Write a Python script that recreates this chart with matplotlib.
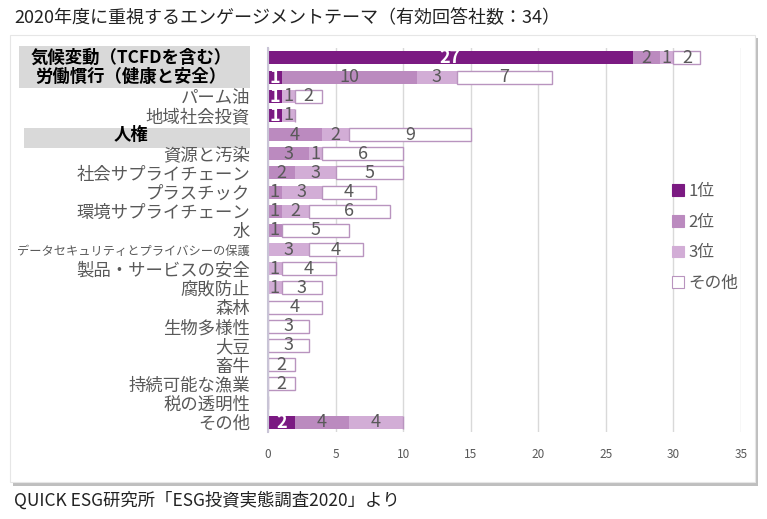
import matplotlib
matplotlib.use("Agg")
import matplotlib.pyplot as plt
from matplotlib.patches import Rectangle, Patch

plt.rcParams['font.family'] = ['Noto Sans CJK JP', 'DejaVu Sans']

# データ
themes = ['気候変動（TCFDを含む）', '労働慣行（健康と安全）', 'パーム油', '地域社会投資', '人権',
          '資源と汚染', '社会サプライチェーン', 'プラスチック', '環境サプライチェーン', '水',
          'データセキュリティとプライバシーの保護', '製品・サービスの安全', '腐敗防止', '森林',
          '生物多様性', '大豆', '畜牛', '持続可能な漁業', '税の透明性', 'その他']
rank1 = [27, 1, 1, 1, 0, 0, 0, 0, 0, 0, 0, 0, 0, 0, 0, 0, 0, 0, 0, 2]
rank2 = [2, 10, 0, 0, 4, 3, 2, 1, 1, 1, 0, 0, 0, 0, 0, 0, 0, 0, 0, 4]
rank3 = [1, 3, 1, 1, 2, 1, 3, 3, 2, 0, 3, 1, 1, 0, 0, 0, 0, 0, 0, 4]
others = [2, 7, 2, 0, 9, 6, 5, 4, 6, 5, 4, 4, 3, 4, 3, 3, 2, 2, 0, 0]
series_names = ['1位', '2位', '3位', 'その他']
highlight = [0, 1, 4]

colors = ['#7B1A82', '#BB8ABF', '#D2ADD6', 'white']
edge_other = '#B994BF'
grey_txt = '#595959'

W, H = 767, 519
fig = plt.figure(figsize=(W / 100, H / 100), dpi=100)

# 外枠（影付き）
fig.patches.append(Rectangle((13 / W, 1 - 486 / H), 745 / W, 448 / H, transform=fig.transFigure,
                             facecolor='#BFBFBF', edgecolor='none', zorder=-3))
fig.patches.append(Rectangle((10 / W, 1 - 482 / H), 745 / W, 447 / H, transform=fig.transFigure,
                             facecolor='white', edgecolor='#E6E6E6', lw=0.8, zorder=-2))
# 強調ラベルの背景
fig.patches.append(Rectangle((19 / W, 1 - 88 / H), 231 / W, 42 / H, transform=fig.transFigure,
                             facecolor='#D9D9D9', edgecolor='none', zorder=-1))
fig.patches.append(Rectangle((24 / W, 1 - 148 / H), 226 / W, 20 / H, transform=fig.transFigure,
                             facecolor='#D9D9D9', edgecolor='none', zorder=-1))

ax = fig.add_axes([268 / W, 1 - 431.6 / H, 473 / W, 383.2 / H])
ax.set_zorder(2)
ax.patch.set_alpha(0)

y = list(range(len(themes)))
h = 0.68
left = [0] * len(themes)
for vals, c, name in zip([rank1, rank2, rank3, others], colors, series_names):
    if name == 'その他':
        ax.barh(y, vals, left=left, height=h, color=c, edgecolor=edge_other, lw=1.0, zorder=3)
    else:
        ax.barh(y, vals, left=left, height=h, color=c, edgecolor='none', zorder=3)
    for i, v in enumerate(vals):
        if v > 0:
            if name == '1位':
                ax.text(left[i] + v / 2, i, str(v), ha='center', va='center', color='white',
                        fontsize=13, fontweight='bold', zorder=4)
            else:
                ax.text(left[i] + v / 2, i, str(v), ha='center', va='center', color=grey_txt,
                        fontsize=13, zorder=4)
    left = [l + v for l, v in zip(left, vals)]

ax.set_xlim(0, 35)
ax.set_ylim(len(themes) - 0.5, -0.5)
ax.set_xticks(range(0, 36, 5))
ax.tick_params(axis='x', length=0, labelsize=8.5, labelcolor=grey_txt, pad=12)
ax.grid(axis='x', color='#D9D9D9', lw=1, zorder=0)
for s in ['top', 'right', 'bottom']:
    ax.spines[s].set_visible(False)
ax.spines['left'].set_color('#C9C4D6')
ax.spines['left'].set_linewidth(1.5)
ax.spines['left'].set_zorder(5)

ax.set_yticks(y)
labels = ['' if i in highlight else t for i, t in enumerate(themes)]
ax.set_yticklabels(labels)
ax.tick_params(axis='y', length=0, pad=13, labelsize=12.5, labelcolor=grey_txt)
ax.get_yticklabels()[10].set_fontsize(8.8)

for i in highlight:
    ax.text(-0.29, i, themes[i], transform=ax.get_yaxis_transform(), ha='center', va='center',
            fontsize=12.5, fontweight='bold', color='black', zorder=5)

# 凡例
handles = [Patch(facecolor=c, edgecolor=(edge_other if c == 'white' else c), lw=0.8) for c in colors]
fig.legend(handles, series_names, loc='upper left', bbox_to_anchor=(657 / W, 1 - 168 / H),
           frameon=False, handlelength=0.7, handleheight=0.7, handletextpad=0.3,
           labelspacing=0.82, fontsize=12, labelcolor=grey_txt)

fig.text(14 / W, 1 - 18 / H, '2020年度に重視するエンゲージメントテーマ（有効回答社数：34）',
         ha='left', va='center', fontsize=13, color='#222222')
fig.text(14 / W, 1 - 500 / H, 'QUICK ESG研究所「ESG投資実態調査2020」より',
         ha='left', va='center', fontsize=12.5, color='#222222')

fig.savefig('out.png', dpi=100)
